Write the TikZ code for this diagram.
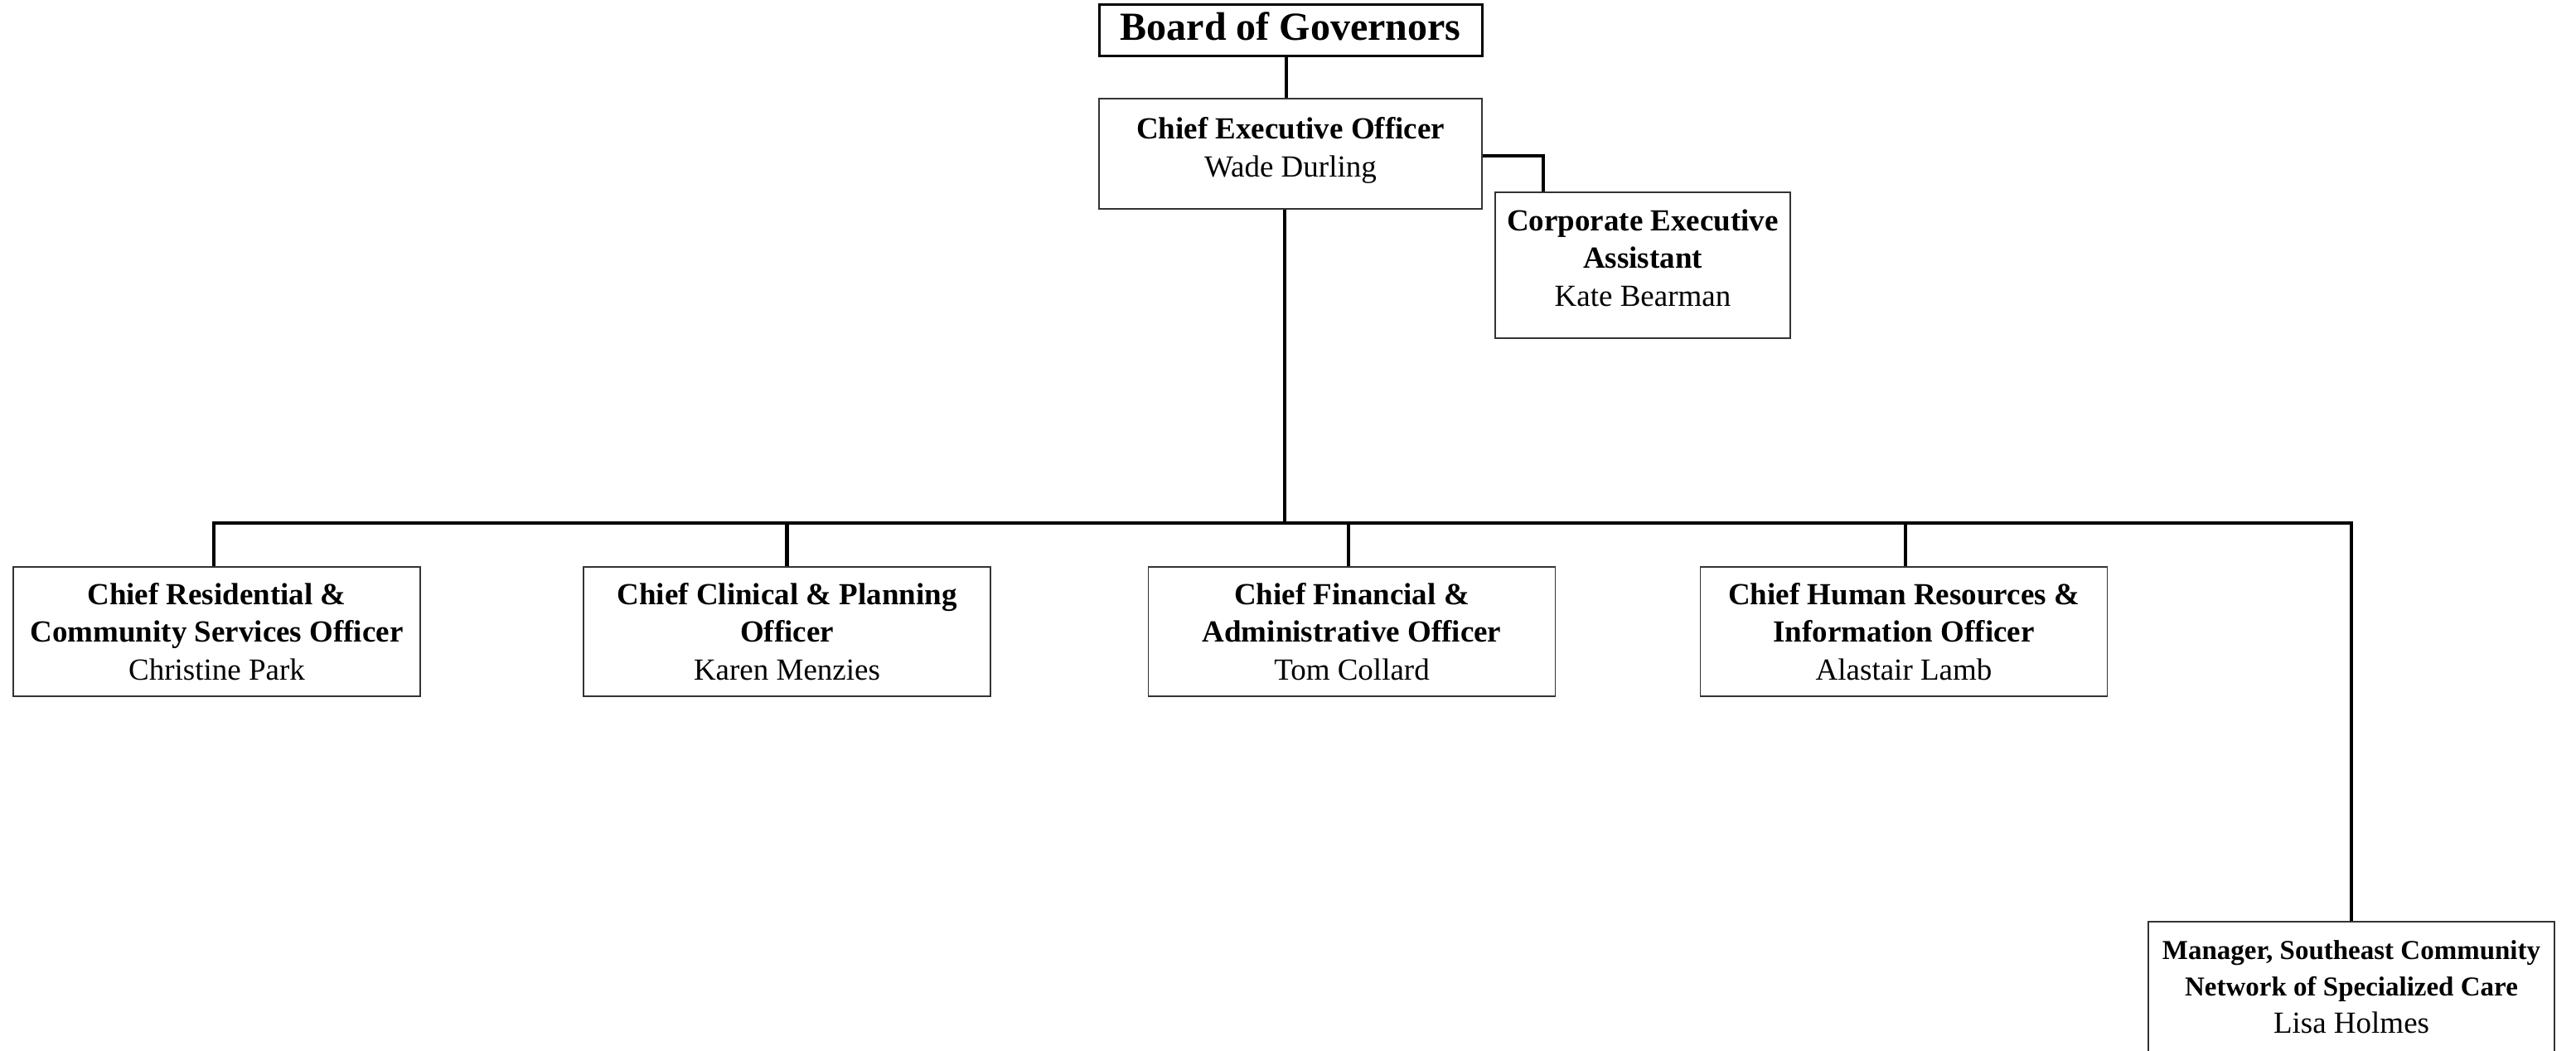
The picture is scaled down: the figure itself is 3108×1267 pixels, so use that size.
\documentclass[tikz,border=0pt]{standalone}
\usepackage{fontspec}
\setmainfont{Liberation Serif}
\begin{document}
\begin{tikzpicture}[x=1pt,y=-1pt,
  box/.style={draw=black!80,line width=1.6pt,rectangle,inner sep=0pt,fill=white},
  topbox/.style={draw=black,line width=3pt,rectangle,inner sep=0pt,fill=white},
  conn/.style={draw=black,line width=4.5pt},
  txt/.style={align=center,inner sep=0pt,font=\fontsize{37}{45.5}\selectfont},
  title/.style={align=center,inner sep=0pt,font=\bfseries\fontsize{48}{56}\selectfont}]
\clip (0,0) rectangle (3108,1267);
\fill[white] (0,0) rectangle (3108,1267);
% boxes
\node[topbox,minimum width=462pt,minimum height=62pt] (board) at (1557,36) {};
\node[box,minimum width=462pt,minimum height=133pt] (ceo) at (1557,185.5) {};
\node[box,minimum width=356pt,minimum height=176pt] (asst) at (1982,320) {};
\node[box,minimum width=491pt,minimum height=156pt] (b1) at (261.5,762) {};
\node[box,minimum width=491pt,minimum height=156pt] (b2) at (949.5,762) {};
\node[box,minimum width=491pt,minimum height=156pt] (b3) at (1631,762) {};
\node[box,minimum width=491pt,minimum height=156pt] (b4) at (2297,762) {};
\node[box,minimum width=490pt,minimum height=180pt] (mgr) at (2837,1202) {};
% connectors
\coordinate (bus) at (0,631);
\draw[conn] ([xshift=-5pt]board.south) -- ([xshift=-5pt]ceo.north);
\draw[conn] ([yshift=-2.5pt]ceo.east) -| ([xshift=-120pt]asst.north);
\draw[conn] ([xshift=-7pt]ceo.south) -- ([xshift=-7pt]ceo.south |- bus);
\draw[conn] ([xshift=-3.5pt]b1.north) -- ([xshift=-3.5pt]b1.north |- bus) -- (mgr.north |- bus) -- (mgr.north);
\draw[conn] (b2.north) -- (b2.north |- bus);
\draw[conn] ([xshift=-4pt]b3.north) -- ([xshift=-4pt]b3.north |- bus);
\draw[conn] ([xshift=2pt]b4.north) -- ([xshift=2pt]b4.north |- bus);
% texts
\node[title] (tboard) at ([yshift=4pt]board.center) {Board of Governors};
\node[txt] (tceo) at ([yshift=4pt]ceo.center) {\textbf{Chief Executive Officer}\\Wade Durling};
\node[txt] (tasst) at ([yshift=9pt]asst.center) {\textbf{Corporate Executive}\\\textbf{Assistant}\\Kate Bearman};
\node[txt] (tb1) at (b1.center) {\textbf{Chief Residential \&}\\\textbf{Community Services Officer}\\Christine Park};
\node[txt] (tb2) at (b2.center) {\textbf{Chief Clinical \& Planning}\\\textbf{Officer}\\Karen Menzies};
\node[txt] (tb3) at (b3.center) {\textbf{Chief Financial \&}\\\textbf{Administrative Officer}\\Tom Collard};
\node[txt] (tb4) at (b4.center) {\textbf{Chief Human Resources \&}\\\textbf{Information Officer}\\Alastair Lamb};
\node[txt,font=\fontsize{33}{44.5}\selectfont,anchor=north] (tmgr) at ([yshift=-23pt]mgr.north) {\textbf{Manager, Southeast Community}\\\textbf{Network of Specialized Care}\\\fontsize{37}{44.5}\selectfont Lisa Holmes};
\end{tikzpicture}
\end{document}
